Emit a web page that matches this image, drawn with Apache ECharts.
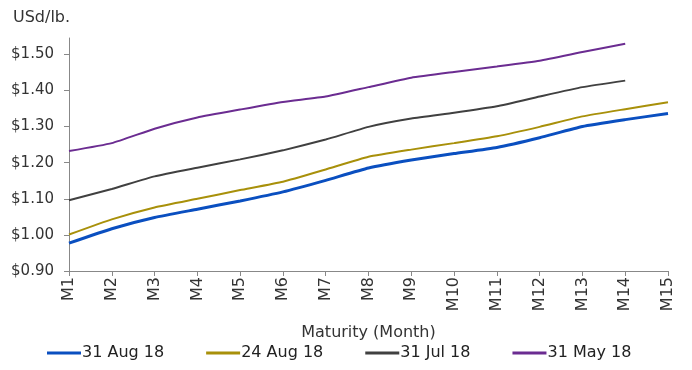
<!DOCTYPE html>
<html><head><meta charset="utf-8">
<script src="https://cdn.jsdelivr.net/npm/echarts@6/dist/echarts.min.js"></script>
<style>html,body{margin:0;padding:0;background:#fff}#c{width:692px;height:370px}</style>
</head><body><div id="c"></div>
<script>
const categories = ['M1','M2','M3','M4','M5','M6','M7','M8','M9','M10','M11','M12','M13','M14','M15'];
const aug31 = [0.977,1.017,1.048,1.071,1.094,1.119,1.151,1.185,1.207,1.225,1.242,1.269,1.300,1.319,1.336];
const aug24 = [1.001,1.043,1.076,1.100,1.124,1.147,1.181,1.216,1.236,1.254,1.273,1.299,1.328,1.348,1.367];
const jul31 = [1.096,1.127,1.162,1.186,1.209,1.234,1.264,1.299,1.322,1.338,1.356,1.383,1.409,1.427,null];
const may31 = [1.232,1.254,1.294,1.325,1.347,1.368,1.383,1.409,1.435,1.451,1.466,1.482,1.506,1.529,null];
const seriesNames = ['31 Aug 18','24 Aug 18','31 Jul 18','31 May 18'];
const colors = ['#0a4fc0','#a8900a','#404040','#6b2c91'];
const widths = [3,2,2,2];

const font = '"DejaVu Sans", sans-serif';
const chart = echarts.init(document.getElementById('c'));
const data = [aug31, aug24, jul31, may31];
chart.setOption({
  animation: false,
  textStyle: {fontFamily: font},
  grid: {left: 69, right: 24, top: 38, bottom: 99},
  title: {text: 'USd/lb.', left: 8, top: 5, textStyle: {fontSize: 16, fontWeight: 'normal', color: '#333', fontFamily: font}},
  legend: {
    bottom: 4, left: 42, itemGap: 42, itemWidth: 34, itemHeight: 3, icon: 'rect',
    textStyle: {fontSize: 16, color: '#222', padding: [0,0,0,-4], fontFamily: font},
    data: seriesNames
  },
  xAxis: {
    type: 'category', data: categories, boundaryGap: false,
    name: 'Maturity (Month)', nameLocation: 'middle', nameGap: 54,
    nameTextStyle: {fontSize: 16, color: '#333', fontFamily: font},
    axisLine: {lineStyle: {color: '#888'}},
    axisTick: {show: true, alignWithLabel: true, lineStyle: {color: '#888'}},
    axisLabel: {rotate: 90, fontSize: 16, color: '#333', margin: 6, interval: 0, fontFamily: font}
  },
  yAxis: {
    type: 'value', min: 0.9, max: 1.545, interval: 0.1,
    splitLine: {show: false},
    axisLine: {show: true, lineStyle: {color: '#888'}},
    axisTick: {show: true, lineStyle: {color: '#888'}},
    axisLabel: {fontSize: 15, color: '#333', margin: 15, showMaxLabel: false, fontFamily: font,
      formatter: v => '$' + v.toFixed(2)}
  },
  series: data.map((d, i) => ({
    name: seriesNames[i], type: 'line', data: d, smooth: 0.15,
    showSymbol: false, symbol: 'none',
    lineStyle: {color: colors[i], width: widths[i]},
    itemStyle: {color: colors[i]}
  }))
});
</script></body></html>
